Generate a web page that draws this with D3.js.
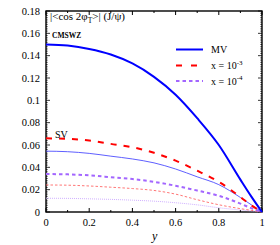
<!DOCTYPE html>
<html>
<head>
<meta charset="utf-8">
<script src="https://cdn.jsdelivr.net/npm/d3@7"></script>
<style>
  html, body { margin: 0; padding: 0; background: #fff; }
  text { font-family: "Liberation Serif", "DejaVu Serif", serif; fill: #000; }
</style>
</head>
<body>
<script>
// rapidity grid and the six curves
const yGrid = [0, 0.1, 0.2, 0.3, 0.4, 0.5, 0.6, 0.7, 0.8, 0.9, 0.95, 1];
const mvX2 = [0.150, 0.149, 0.146, 0.141, 0.133, 0.121, 0.105, 0.084, 0.060, 0.029, 0.014, 0];
const mvX3 = [0.066, 0.0655, 0.064, 0.061, 0.058, 0.053, 0.046, 0.037, 0.027, 0.0135, 0.006, 0];
const mvX4 = [0.034, 0.0337, 0.0328, 0.0312, 0.0295, 0.027, 0.0235, 0.0192, 0.0145, 0.0075, 0.0035, 0];
const svX2 = [0.0545, 0.054, 0.0525, 0.050, 0.0475, 0.044, 0.0385, 0.0315, 0.0245, 0.013, 0.0065, 0];
const svX3 = [0.0242, 0.024, 0.0233, 0.0222, 0.021, 0.0193, 0.016, 0.011, 0.0065, 0.003, 0.0015, 0];
const svX4 = [0.0123, 0.0122, 0.0118, 0.0113, 0.0106, 0.0097, 0.0083, 0.0064, 0.0038, 0.0018, 0.0009, 0];

const xTicks = [0, 0.2, 0.4, 0.6, 0.8, 1];
const yTicks = [0, 0.02, 0.04, 0.06, 0.08, 0.1, 0.12, 0.14, 0.16, 0.18];

const width = 280, height = 245;
const margin = { left: 46, right: 18, top: 11, bottom: 33 };

const svg = d3.select('body').append('svg')
  .attr('width', width)
  .attr('height', height);

const x = d3.scaleLinear().domain([0, 1]).range([margin.left, width - margin.right]);
const y = d3.scaleLinear().domain([0, 0.18]).range([height - margin.bottom, margin.top]);

const x0 = x.range()[0], x1 = x.range()[1];
const y0 = y.range()[0], y1 = y.range()[1];

// ticks, inward on all four sides
const ticks = svg.append('g').attr('stroke', '#000');
d3.range(0, 1.0001, 0.1).forEach((v, i) => {
  const len = i % 2 === 0 ? 4 : 2;
  ticks.append('line').attr('x1', x(v)).attr('x2', x(v)).attr('y1', y0).attr('y2', y0 - len).attr('stroke-width', 1);
  ticks.append('line').attr('x1', x(v)).attr('x2', x(v)).attr('y1', y1).attr('y2', y1 + len).attr('stroke-width', 1);
});
d3.range(0, 90.5, 1).forEach(k => {
  const v = k * 0.002;
  const len = k % 10 === 0 ? 4 : 1.6;
  ticks.append('line').attr('y1', y(v)).attr('y2', y(v)).attr('x1', x0).attr('x2', x0 + len).attr('stroke-width', 0.8);
  ticks.append('line').attr('y1', y(v)).attr('y2', y(v)).attr('x1', x1).attr('x2', x1 - len).attr('stroke-width', 0.8);
});

svg.append('rect')
  .attr('x', x0).attr('y', y1)
  .attr('width', x1 - x0).attr('height', y0 - y1)
  .attr('fill', 'none').attr('stroke', '#000').attr('stroke-width', 1.4);

// tick labels
svg.append('g').selectAll('text').data(xTicks).join('text')
  .attr('x', d => x(d)).attr('y', y0 + 14)
  .attr('text-anchor', 'middle').attr('font-size', 10.5)
  .text(d => d3.format('~g')(d));

svg.append('g').selectAll('text').data(yTicks).join('text')
  .attr('x', x0 - 6).attr('y', d => y(d) + 3.5)
  .attr('text-anchor', 'end').attr('font-size', 10.5)
  .text(d => d === 0 ? '0' : d3.format('~g')(d));

svg.append('text')
  .attr('x', 152).attr('y', 240)
  .attr('font-style', 'italic').attr('font-size', 12)
  .text('y');

// curves
const series = [
  { vals: svX4, color: '#c9a6ff', w: 0.9, dash: '1,1' },
  { vals: svX3, color: '#ff6666', w: 0.9, dash: '2.5,2' },
  { vals: svX2, color: '#4d4dff', w: 0.9, dash: null },
  { vals: mvX4, color: '#a366ff', w: 2, dash: '3.5,3' },
  { vals: mvX3, color: '#ff0000', w: 2, dash: '6,7' },
  { vals: mvX2, color: '#0000ff', w: 2, dash: null },
];

const line = d3.line()
  .x((d, i) => x(yGrid[i]))
  .y(d => y(d))
  .curve(d3.curveMonotoneX);

svg.append('g').selectAll('path').data(series).join('path')
  .attr('d', d => line(d.vals))
  .attr('fill', 'none')
  .attr('stroke', d => d.color)
  .attr('stroke-width', d => d.w)
  .attr('stroke-dasharray', d => d.dash);

// title and labels
const title = svg.append('text').attr('x', 50).attr('y', 20).attr('font-size', 11);
title.append('tspan').text('|<cos 2φ');
title.append('tspan').attr('font-size', 7.5).attr('dy', 2.5).text('T');
title.append('tspan').attr('dy', -2.5).text('>| (J/ψ)');

svg.append('text')
  .attr('x', 52).attr('y', 38)
  .attr('font-size', 7.5).attr('font-weight', 'bold')
  .text('CMSWZ');

svg.append('text')
  .attr('x', 55).attr('y', 138)
  .attr('font-size', 10)
  .text('SV');

// legend
const legend = [
  { label: 'MV', sup: null, color: '#0000ff', dash: null, ly: 49.5 },
  { label: 'x = 10', sup: '-3', color: '#ff0000', dash: '6,9', ly: 65.5 },
  { label: 'x = 10', sup: '-4', color: '#a366ff', dash: '3.5,3', ly: 81 },
];
const lg = svg.append('g');
legend.forEach(d => {
  lg.append('line')
    .attr('x1', 176).attr('x2', 203)
    .attr('y1', d.ly).attr('y2', d.ly)
    .attr('stroke', d.color).attr('stroke-width', 2)
    .attr('stroke-dasharray', d.dash);
  const t = lg.append('text').attr('x', 211).attr('y', d.ly + 3.5).attr('font-size', 10).text(d.label);
  if (d.sup) t.append('tspan').attr('font-size', 7).attr('dy', -4.5).text(d.sup);
});
</script>
</body>
</html>
